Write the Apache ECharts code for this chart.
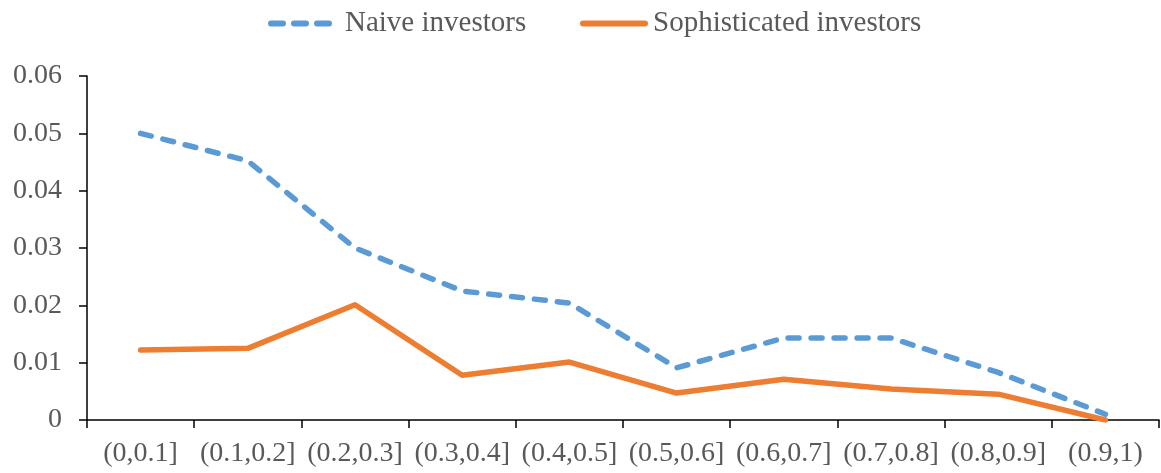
<!DOCTYPE html>
<html><head><meta charset="utf-8">
<script src="https://cdn.jsdelivr.net/npm/echarts@6/dist/echarts.min.js"></script>
<style>html,body{margin:0;padding:0;background:#fff}#c{width:1161px;height:473px}</style>
</head><body><div id="c"></div>
<script>
var categories = ['(0,0.1]','(0.1,0.2]','(0.2,0.3]','(0.3,0.4]','(0.4,0.5]','(0.5,0.6]','(0.6,0.7]','(0.7,0.8]','(0.8,0.9]','(0.9,1)'];
var naive = [0.0500, 0.0452, 0.0300, 0.0225, 0.0204, 0.0091, 0.0143, 0.0143, 0.0083, 0.0010];
var sophisticated = [0.0122, 0.0125, 0.0201, 0.0078, 0.0101, 0.0047, 0.0071, 0.0054, 0.0045, 0.0000];
var yTicks = ['0', '0.01', '0.02', '0.03', '0.04', '0.05', '0.06'];

var font = 'Liberation Serif';
var dashIcon = 'path://M3,0H15A3,3 0 0 1 15,6H3A3,3 0 0 1 3,0Z M26,0H38A3,3 0 0 1 38,6H26A3,3 0 0 1 26,0Z M49,0H61A3,3 0 0 1 61,6H49A3,3 0 0 1 49,0Z';
var solidIcon = 'path://M3,0H65A3,3 0 0 1 65,6H3A3,3 0 0 1 3,0Z';
var legendText = {fontFamily: font, fontSize: 29, color: '#595959'};
var chart = echarts.init(document.getElementById('c'), null, {renderer:'canvas'});
chart.setOption({
  animation: false,
  backgroundColor: '#fff',
  legend: [
    {top: 9, left: 268, itemWidth: 64, itemHeight: 6, padding: 0,
     textStyle: Object.assign({padding: [0,0,0,8]}, legendText),
     data: [{name: 'Naive investors', icon: dashIcon, itemStyle: {color: '#5B9BD5'}}]},
    {top: 9, left: 580, itemWidth: 68, itemHeight: 6, padding: 0,
     textStyle: legendText,
     data: [{name: 'Sophisticated investors', icon: solidIcon, itemStyle: {color: '#ED7D31'}}]}
  ],
  grid: {left: 87, right: 2, top: 76, bottom: 53, containLabel: false},
  xAxis: {
    type: 'category', data: categories, boundaryGap: true,
    axisLine: {lineStyle: {color: '#000', width: 1.5}},
    axisTick: {show: true, inside: false, length: 8, alignWithLabel: false, interval: 0, lineStyle: {color: '#000', width: 1.5}},
    axisLabel: {fontFamily: font, fontSize: 28, color: '#595959', margin: 20, interval: 0}
  },
  yAxis: {
    type: 'value', min: 0, max: 0.06, interval: 0.01,
    axisLine: {show: true, lineStyle: {color: '#000', width: 1.5}},
    axisTick: {show: true, inside: false, length: 8, lineStyle: {color: '#000', width: 1.5}},
    splitLine: {show: false},
    axisLabel: {fontFamily: font, fontSize: 28, color: '#595959', margin: 25,
      formatter: function(v){ return yTicks[Math.round(v*100)]; }}
  },
  series: [
    {name: 'Naive investors', type: 'line', data: naive, symbol: 'none', showSymbol: false,
     lineStyle: {color: '#5B9BD5', width: 5.5, type: [11, 12], cap: 'round', join: 'round'},
     itemStyle: {color: '#5B9BD5'}},
    {name: 'Sophisticated investors', type: 'line', data: sophisticated, symbol: 'none', showSymbol: false,
     lineStyle: {color: '#ED7D31', width: 5.5, cap: 'round', join: 'round'},
     itemStyle: {color: '#ED7D31'}}
  ]
});
</script></body></html>
